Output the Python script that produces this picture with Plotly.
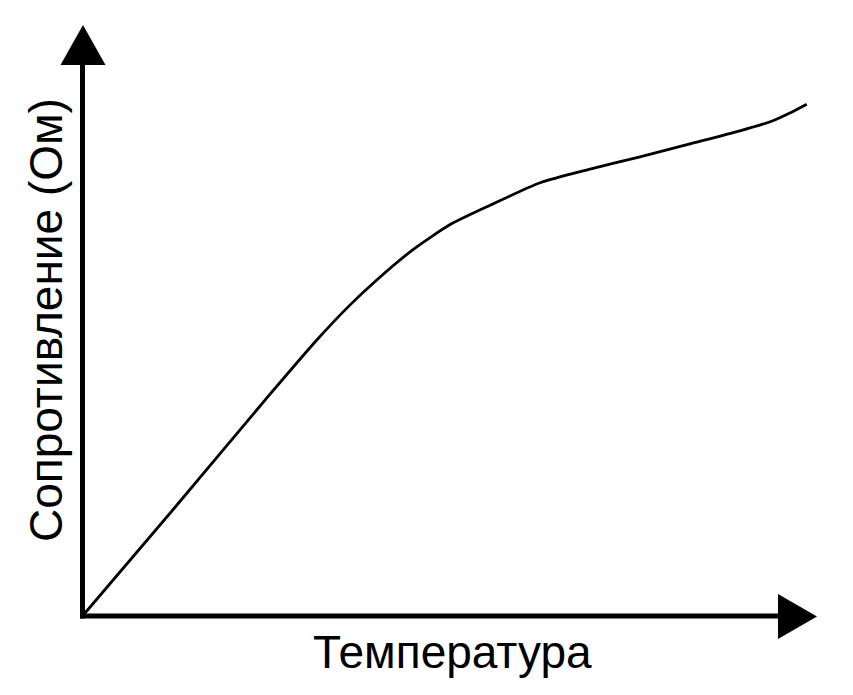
import plotly.graph_objects as go

# Data (arbitrary units: temperature 0..100, resistance 0..100)
temperature = [0, 12.6, 25.1, 31.9, 36.4, 40.1, 45.0, 50.0, 55.5, 62.3, 69.1, 75.9, 82.7, 89.5, 94.0, 96.3, 98.6]
resistance = [0, 18.4, 36.9, 46.7, 52.6, 56.9, 62.0, 66.2, 69.5, 73.3, 75.6, 77.7, 79.9, 82.1, 83.8, 85.1, 86.6]

x_label = "Температура"
y_label = "Сопротивление (Ом)"

W, H = 853, 695
# pixel mapping: origin at (82.5, 616); x 100 -> 817 px; y 100 -> 25 px
ox, oy = 82.5, 616.0
sx = (817 - ox) / 100.0
sy = (oy - 25) / 100.0
xr = [(0 - ox) / sx, (W - ox) / sx]
yr = [(oy - H) / sy, (oy - 0) / sy]

def px_x(p):
    return (p - ox) / sx

def px_y(p):
    return (oy - p) / sy

fig = go.Figure()
fig.add_trace(go.Scatter(
    x=temperature, y=resistance, mode="lines",
    line=dict(color="black", width=2.8, shape="spline", smoothing=0.6),
    hoverinfo="skip", showlegend=False,
))

shapes = []
# y axis line
shapes.append(dict(type="line", xref="x", yref="y",
                   x0=0, x1=0, y0=px_y(oy + 2.5), y1=px_y(62),
                   line=dict(color="black", width=5)))
# x axis line
shapes.append(dict(type="line", xref="x", yref="y",
                   x0=px_x(ox - 2.5), x1=px_x(781), y0=0, y1=0,
                   line=dict(color="black", width=5)))
# y arrow head
shapes.append(dict(type="path", xref="x", yref="y",
                   path=f"M {px_x(60.5)} {px_y(65)} L {px_x(83)} {px_y(25)} L {px_x(105.5)} {px_y(65)} Z",
                   fillcolor="black", line=dict(color="black", width=0)))
# x arrow head
shapes.append(dict(type="path", xref="x", yref="y",
                   path=f"M {px_x(778)} {px_y(594)} L {px_x(817)} {px_y(616.5)} L {px_x(778)} {px_y(639)} Z",
                   fillcolor="black", line=dict(color="black", width=0)))

font = dict(family="Liberation Sans, Arial, sans-serif", size=46, color="black")
annotations = [
    dict(text=x_label, xref="paper", yref="paper", x=452.5 / W, y=1 - 652 / H,
         xanchor="center", yanchor="middle", showarrow=False, font=font),
    dict(text=y_label, xref="paper", yref="paper", x=46 / W, y=1 - 320 / H,
         xanchor="center", yanchor="middle", showarrow=False, font=font, textangle=-90),
]

fig.update_layout(
    width=W, height=H, margin=dict(l=0, r=0, t=0, b=0),
    paper_bgcolor="white", plot_bgcolor="white",
    xaxis=dict(range=xr, visible=False, fixedrange=True),
    yaxis=dict(range=yr, visible=False, fixedrange=True),
    shapes=shapes, annotations=annotations, showlegend=False,
)

fig.write_html("out.html", config={"displayModeBar": False},
               post_script="document.body.style.margin='0';document.body.style.overflow='hidden';")
